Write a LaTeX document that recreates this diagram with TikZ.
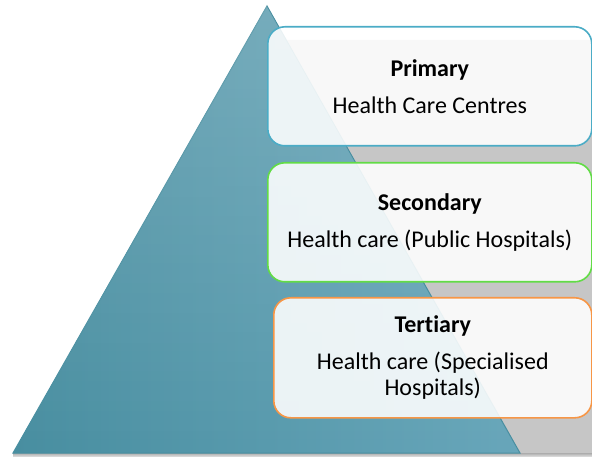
\documentclass[tikz,border=0pt]{standalone}
\usepackage{fontspec}
\setmainfont{Carlito}[Ligatures=NoCommon]
\usetikzlibrary{fadings}
\definecolor{tealdark}{RGB}{72,142,160}
\definecolor{tealmid}{RGB}{104,166,186}
\definecolor{teallight}{RGB}{150,200,216}
\definecolor{tierblue}{HTML}{4BACC6}
\definecolor{tiergreen}{HTML}{62DC46}
\definecolor{tierorange}{HTML}{F79646}
\begin{document}
\begin{tikzpicture}
[x=1pt,y=-1pt,
  tierdecorate/.style={draw,line width=1.6pt,rounded corners=17pt,fill=white,
    fill opacity=0.88,text opacity=1,anchor=north west,align=center,
    inner sep=0pt,font=\fontsize{24}{26}\selectfont},%
  pyramiddecorate/.style={draw=tealdark,line width=1pt,left color=tealdark,
    middle color=teallight,right color=tealmid}]
\useasboundingbox (0,0) rectangle (592,457);
%% shadow behind the pyramid
\fill[gray!45] (286,40) -- (520,453) -- (592,453) -- (592,40) -- cycle;
\shade[top color=gray!65,bottom color=gray!20] (13,453) rectangle (592,457);
%% pyramid
\coordinate (apex) at (267,6);
\coordinate (baseleft) at (13,453);
\coordinate (baseright) at (520,453);
\path[pyramiddecorate] (apex) -- (baseright) -- (baseleft) -- cycle;
\fill[white,fill opacity=0.18,path fading=south] (apex) -- (baseright) -- (baseleft) -- cycle;
%% tiers
\foreach \nodename/\x/\y/\w/\h/\col/\title/\body in {
  primary/267/26/324/119/tierblue/Primary/{Health Care Centres},
  secondary/267/162/324/119/tiergreen/Secondary/{Health care (Public Hospitals)},
  tertiary/273/297/318/120/tierorange/Tertiary/{Health care (Specialised\\Hospitals)}} {
  \node (\nodename) at (\x,\y) [tierdecorate,draw=\col,
    minimum width=\w pt,minimum height=\h pt] {\textbf{\title}\\[11pt]\body};
}
\end{tikzpicture}
\end{document}
